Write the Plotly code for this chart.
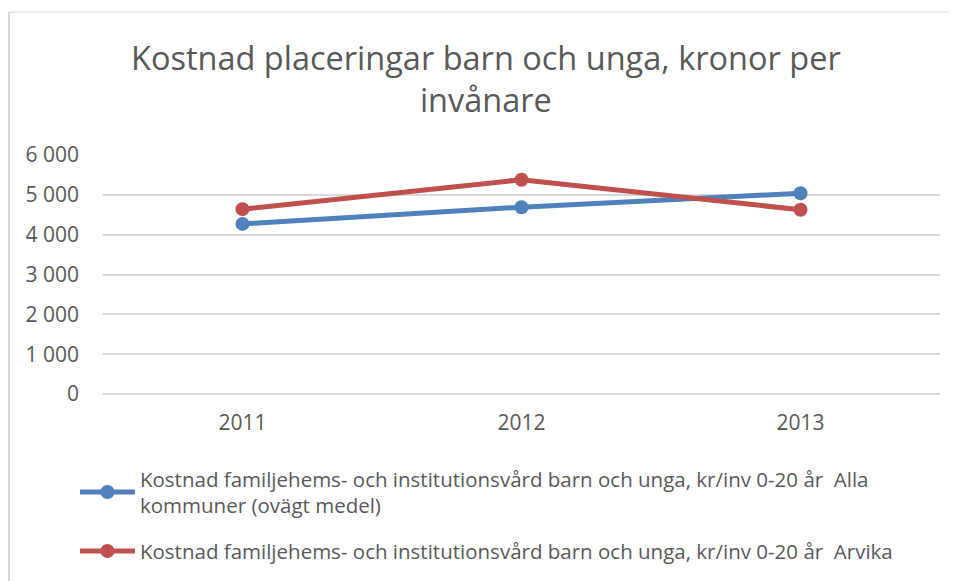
import plotly.graph_objects as go

years = ["2011", "2012", "2013"]
alla = [4270, 4690, 5040]
arvika = [4640, 5380, 4625]
name_alla = "Kostnad familjehems- och institutionsvård barn och unga, kr/inv 0-20 år  Alla<br>kommuner (ovägt medel)"
name_arvika = "Kostnad familjehems- och institutionsvård barn och unga, kr/inv 0-20 år  Arvika"
tick_vals = [0, 1000, 2000, 3000, 4000, 5000, 6000]
tick_text = ["0", "1 000", "2 000", "3 000", "4 000", "5 000", "6 000"]
title_text = "Kostnad placeringar barn och unga, kronor per<br>invånare"

W, H = 949, 573
L, R, T, B = 95, 17, 147, 186
PW, PH = W - L - R, H - T - B

fig = go.Figure()
fig.add_trace(go.Scatter(x=years, y=alla, name=name_alla, mode="lines+markers",
                         legendgroup="a",
                         line=dict(color="#4F81BD", width=5),
                         marker=dict(size=14, color="#4F81BD")))
fig.add_trace(go.Scatter(x=years, y=arvika, name=name_arvika, mode="lines+markers",
                         legendgroup="b",
                         line=dict(color="#C0504D", width=5),
                         marker=dict(size=14, color="#C0504D")))

fig.update_layout(
    width=W, height=H,
    margin=dict(l=L, r=R, t=T, b=B),
    paper_bgcolor="white", plot_bgcolor="white",
    font=dict(family="Open Sans", color="#595959"),
    xaxis=dict(type="category", range=[-0.5, 2.5], showgrid=False, showline=False,
               ticks="", tickfont=dict(size=21, color="#595959"), ticklabelstandoff=14),
    yaxis=dict(range=[0, 6000], tickvals=tick_vals, ticktext=tick_text,
               showgrid=True, gridcolor="#D9D9D9", gridwidth=1.5, zeroline=True,
               zerolinecolor="#D9D9D9", zerolinewidth=1.5, ticks="",
               tickfont=dict(size=21, color="#595959"), ticklabelstandoff=23),
    legend=dict(x=-0.0335, xanchor="left", y=-0.266, yanchor="top",
                font=dict(size=20.5, color="#595959"), tracegroupgap=16,
                itemwidth=55, bgcolor="rgba(0,0,0,0)"),
    showlegend=True,
    annotations=[dict(text=title_text, xref="paper", yref="paper",
                      x=(486 - 103) / PW, y=(395 - 78.5) / PH,
                      xanchor="center", yanchor="middle", showarrow=False,
                      font=dict(size=32.5, color="#595959"))],
    shapes=[
        dict(type="line", xref="paper", yref="paper",
             x0=(1 - L) / PW, x1=(1 - L) / PW, y0=-(B + 10) / PH, y1=1 + (T - 3.5) / PH,
             line=dict(color="#D9D9D9", width=2)),
        dict(type="line", xref="paper", yref="paper",
             x0=(1 - L) / PW, x1=1 + (R + 20) / PW, y0=1 + (T - 3.5) / PH, y1=1 + (T - 3.5) / PH,
             line=dict(color="#D9D9D9", width=1)),
    ],
)

fig.write_html("out.html")
